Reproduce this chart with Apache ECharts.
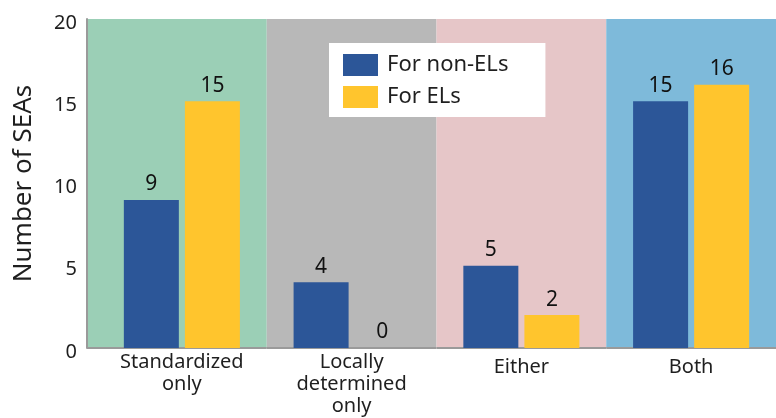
<!DOCTYPE html>
<html>
<head>
<meta charset="utf-8">
<script src="https://cdn.jsdelivr.net/npm/echarts@6/dist/echarts.min.js"></script>
<style>html,body{margin:0;padding:0;background:#fff;}#c{width:776px;height:418px;}</style>
</head>
<body>
<div id="c"></div>
<script>
const categories = ['Standardized\nonly', 'Locally\ndetermined\nonly', 'Either', 'Both'];
const nonELs = [9, 4, 5, 15];
const ELs = [15, 0, 2, 16];
const bandColors = ['#9BCFB6', '#B8B8B8', '#E6C6C8', '#7EBADA'];
const yTicks = [0, 5, 10, 15, 20];

const FONT = '"Noto Sans", sans-serif';
const Y_OFFSET = 10;
const chart = echarts.init(document.getElementById('c'));
chart.setOption({
  animation: false,
  grid: { left: 97, width: 681, top: 19, bottom: 70 },
  legend: {
    data: ['For non-ELs', 'For ELs'],
    orient: 'vertical', left: 329, top: 43,
    padding: [11, 37, 9, 14],
    backgroundColor: '#fff',
    itemWidth: 35, itemHeight: 22, itemGap: 10,
    icon: 'rect',
    textStyle: { fontFamily: FONT, fontSize: 22, color: '#1f1f1f', padding: [0, 0, 0, 4] }
  },
  xAxis: {
    type: 'category', data: categories,
    axisLine: { show: false }, axisTick: { show: false },
    axisLabel: {
      interval: 0, fontFamily: FONT, fontSize: 20, lineHeight: 22, color: '#1f1f1f', margin: 3,
      formatter: function (v) { return v.indexOf('\n') < 0 ? '{s|' + v + '}' : v; },
      rich: { s: { fontFamily: FONT, fontSize: 20, lineHeight: 22, color: '#1f1f1f', padding: [10, 0, 0, 0] } }
    }
  },
  yAxis: {
    type: 'value', min: yTicks[0], max: yTicks[yTicks.length - 1], interval: 5,
    offset: Y_OFFSET, z: 5,
    name: 'Number of SEAs', nameLocation: 'middle', nameGap: 50,
    nameTextStyle: { fontFamily: FONT, fontSize: 26, color: '#1f1f1f' },
    axisLine: { show: true, lineStyle: { color: '#9a9a9a', width: 2 } },
    axisTick: { show: false }, splitLine: { show: false },
    axisLabel: {
      fontFamily: FONT, fontSize: 20, color: '#1f1f1f', margin: 10,
      formatter: function (v) { return '{t|' + v + '}'; },
      rich: { t: { fontFamily: FONT, fontSize: 20, color: '#1f1f1f', lineHeight: 20, padding: [8, 0, 0, 0] } }
    }
  },
  series: [
    {
      type: 'custom', silent: true, z: 1, clip: false,
      data: categories.map((c, i) => [i]),
      renderItem: function (params, api) {
        const idx = api.value(0);
        const size = api.size([1, 0])[0];
        const cx = api.coord([idx, 0])[0];
        const cs = params.coordSys;
        let x0 = cx - size / 2;
        if (idx === 0) x0 = cs.x - Y_OFFSET;
        const x1 = cx + size / 2;
        return {
          type: 'group',
          children: [
            { type: 'rect', shape: { x: x0, y: cs.y, width: x1 - x0, height: cs.height }, style: { fill: bandColors[idx] } },
            { type: 'line', shape: { x1: x0, y1: cs.y + cs.height, x2: x1, y2: cs.y + cs.height }, style: { stroke: '#9a9a9a', lineWidth: 2 } }
          ]
        };
      }
    },
    {
      name: 'For non-ELs', type: 'bar', data: nonELs, barWidth: 55, barGap: '11%', z: 3,
      itemStyle: { color: '#2C5698' },
      label: { show: true, position: 'top', distance: 5, fontFamily: FONT, fontSize: 21, color: '#111' }
    },
    {
      name: 'For ELs', type: 'bar', data: ELs, barWidth: 55, barGap: '11%', z: 3,
      itemStyle: { color: '#FFC52D' },
      label: { show: true, position: 'top', distance: 5, fontFamily: FONT, fontSize: 21, color: '#111' }
    }
  ]
});
</script>
</body>
</html>
